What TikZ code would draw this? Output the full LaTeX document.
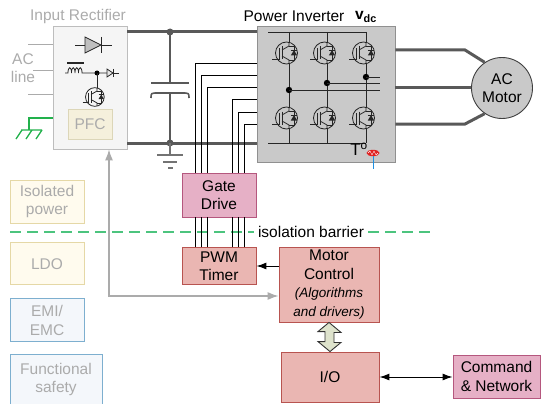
\documentclass[tikz,border=0pt]{standalone}
\usepackage{fontspec}
\setmainfont{Liberation Sans}
\usetikzlibrary{arrows.meta,positioning}
\definecolor{gdfill}{HTML}{E6B0C6}
\definecolor{gddraw}{HTML}{B5577E}
\definecolor{rdfill}{HTML}{EAB6B2}
\definecolor{rddraw}{HTML}{B85450}
\definecolor{ylfill}{HTML}{FFFBEE}
\definecolor{yldraw}{HTML}{E5D8A6}
\definecolor{blfill}{HTML}{F4F7FB}
\definecolor{bldraw}{HTML}{7DAFCF}
\definecolor{pfcfill}{HTML}{F5F0DC}
\definecolor{pfcdraw}{HTML}{DCD6B8}
\definecolor{recfill}{HTML}{F5F5F5}
\definecolor{recdraw}{HTML}{BDBDBD}
\definecolor{invfill}{HTML}{C9C9C9}
\definecolor{invdraw}{HTML}{909090}
\definecolor{busgray}{HTML}{595959}
\definecolor{txtgray}{HTML}{ABABAB}
\definecolor{isogreen}{HTML}{4CC47E}
\definecolor{earthgreen}{HTML}{22B14C}
\definecolor{arrfill}{HTML}{DEE3CC}
\definecolor{thermred}{HTML}{E02020}
\definecolor{thermblue}{HTML}{1F8FE0}
\newcommand\mcitalic{\fontsize{13.5}{17}\selectfont\itshape}
\tikzset{%
  >={Latex[length=10pt,width=7pt]},
  txt/.style={font=\fontsize{15.5}{18.5}\selectfont, align=center},
  blockbox/.style={rectangle, draw=#1draw, fill=#1fill, line width=0.9pt, inner sep=0pt, txt},
  softbox/.style={rectangle, draw=#1draw, fill=#1fill, line width=0.9pt, inner sep=0pt, txt, text=txtgray},
  bus/.style={draw=busgray, line width=3pt},
  capline/.style={draw=busgray, line width=1.6pt},
  gateline/.style={draw=black, line width=0.8pt},
  comp/.style={draw=black!85, line width=0.8pt},
  barrier/.style={draw=isogreen, line width=2pt, dash pattern=on 11pt off 6pt},
  greyarrow/.style={draw=txtgray, line width=1.2pt, >={Latex[length=11pt,width=8pt]}},
  ctrlarrow/.style={draw=black, line width=1pt},
  igbt/.pic={
    \draw[comp] (-2.5,0) circle[radius=11pt];
    \draw[comp] (-17,6) -- (-10,6) -- (-10,-5);
    \draw[comp] (-7,-6.5) -- (-7,6.5);
    \draw[comp] (-7,-3) -- (0,-7) -- (0,-10.7);
    \draw[comp] (-7,3) -- (0,7) -- (0,10.7);
    \draw[comp] (0,-7) -- (5,-7) -- (5,7) -- (0,7);
    \fill[black!85] (1.8,2.5) -- (8.2,2.5) -- (5,-3) -- cycle;
    \draw[comp] (1.8,-3) -- (8.2,-3);
  }
}
\begin{document}
\begin{tikzpicture}[x=1pt,y=-1pt]
\useasboundingbox (0,0) rectangle (541,404);

% input rectifier
\node (rect) [softbox=rec, minimum width=74, minimum height=123] at (90,87.5) {};
\node (rect_lbl) [txt, text=txtgray] at (78,16) {Input Rectifier};
\node (pfc) [softbox=pfc, minimum width=44, minimum height=30] at (90,124) {PFC};
\node (acl) [txt, text=txtgray] at (23,68) {AC\\line};
\foreach \y/\x in {44/28,70/33,94/28}
  \draw[draw=txtgray, line width=0.9pt] (\x,\y) -- (rect.west |- 0,\y);
\draw[draw=earthgreen, line width=1.3pt] (rect.west |- 0,118) -- (29,118) -- (29,130);
\draw[draw=earthgreen, line width=1.3pt] (21,130) -- (42,130)
  (22,130) -- (16,139) (32,130) -- (26,139) (42,130) -- (36,139);
% diode, inductor, switch
\draw[comp] (75,45) -- (85,45) (101,45) -- (112,45);
\draw[comp, fill=black!25] (85,37) -- (85,53) -- (101,45) -- cycle;
\draw[comp] (101,37) -- (101,53);
\draw[comp] (65,73) -- (68,73) .. controls (68,66) and (71.5,66) .. (71.5,73)
  .. controls (71.5,66) and (75,66) .. (75,73) .. controls (75,66) and (78.5,66) .. (78.5,73)
  .. controls (78.5,66) and (82,66) .. (82,73) -- (107,73);
\draw[comp, line width=1.2pt] (67,63) -- (84,63);
\draw[comp, fill=black!10] (107,69) -- (107,77) -- (113,73) -- cycle;
\draw[comp] (113,69) -- (113,77) (113,73) -- (119,73);
\fill[black] (97,73) circle[radius=2.5pt];
\draw[comp] (97,73) -- (97,88);
\pic[scale=0.85] at (97,97) {igbt};

% power inverter
\node (inv) [draw=invdraw, fill=invfill, line width=0.9pt, minimum width=138, minimum height=136, inner sep=0pt] at (326,94) {};
\node (inv_lbl) [txt] at (294,16) {Power Inverter};
\node (vdc) [txt] at (366,17) {\textbf{v\textsubscript{dc}}};
\draw[comp] (268,32) -- (366,32) (268,143) -- (366,143);
\foreach \c/\m in {289/90,327/83,366/77}{
  \draw[comp] (\c,32) -- (\c,42.5) (\c,63.5) -- (\c,107.5) (\c,128.5) -- (\c,143);
  \pic at (\c,53) {igbt};
  \pic at (\c,118) {igbt};
  \fill[black] (\c,\m) circle[radius=3.2pt];
  \draw[comp] (\c,\m) -- (380,\m);
}
\node (temp) [font=\fontsize{17}{18}\selectfont] at (359,149) {T\textsuperscript{o}};
\fill[thermred] (373,153) ellipse[x radius=6.5pt, y radius=3.2pt];
\draw[white, line width=0.4pt] (368,153) -- (370,151) -- (372,155) -- (374,151) -- (376,155) -- (378,153);
\draw[thermblue, line width=1pt] (373,156.2) -- (373,169);

% dc link
\coordinate (bus_top) at (170,32);
\coordinate (bus_bot) at (170,143);
\draw[bus] (rect.east |- bus_top) -- (inv.west |- bus_top);
\draw[bus] (rect.east |- bus_bot) -- (inv.west |- bus_bot);
\draw[capline] (bus_top) -- (170,83) (151,83) -- (189,83);
\draw[capline] (151,98) .. controls (151,93) .. (158,93) -- (182,93) .. controls (189,93) .. (189,98);
\draw[capline] (170,93) -- (bus_bot);
\fill[busgray] (bus_top) circle[radius=3.5pt];
\fill[busgray] (bus_bot) circle[radius=3.5pt];
\draw[draw=black!55, line width=1.1pt] (bus_bot) -- (170,155)
  (157,155) -- (183,155) (163,162) -- (177,162) (168,168) -- (173,168);

% motor
\node (motor) [circle, draw=black!75, fill=invfill, minimum size=61, line width=0.9pt, inner sep=0pt, txt] at (502,88) {AC\\Motor};
\draw[bus] (inv.east |- 0,50) -- (465,50) -- (motor.124);
\draw[bus] (inv.east |- motor.west) -- (motor.west);
\draw[bus] (inv.east |- 0,124) -- (465,124) -- (motor.236);

% control side
\node (gate) [blockbox=gd, minimum width=74, minimum height=44] at (219,195) {Gate\\Drive};
\node (pwm) [blockbox=rd, minimum width=74, minimum height=37, below=30pt of gate] {PWM\\Timer};
\node (mc) [blockbox=rd, minimum width=100, minimum height=75] at (329,284.5) {Motor\\Control\\{\mcitalic(Algorithms}\\{\mcitalic and drivers)}};
\node (io) [blockbox=rd, minimum width=98, minimum height=50] at (330,377) {I/O};
\node (cmd) [blockbox=gd, minimum width=87, minimum height=43] at (496.5,376.5) {Command\\\& Network};

% isolation barrier
\node (iso_lbl) [txt, inner sep=4pt] at (311,232) {isolation barrier};
\draw[barrier] (10,232) -- (iso_lbl.west);
\draw[barrier] (iso_lbl.east) -- (430,232);

\foreach \x/\y in {195/63,201/75,207/87,232/99,238/112,244/124}{
  \draw[gateline] (gate.north -| \x,0) |- (inv.west |- 0,\y);
  \draw[gateline] (pwm.north -| \x,0) -- (gate.south -| \x,0);
}

% support blocks
\node (isopow) [softbox=yl, minimum width=74, minimum height=43] at (47,201.5) {Isolated\\power};
\node (ldo) [softbox=yl, minimum width=74, minimum height=42, below=19pt of isopow] {LDO};
\node (emi) [softbox=bl, minimum width=74, minimum height=43, below=13pt of ldo] {EMI/\\EMC};
\node (fsafe) [softbox=bl, minimum width=92, minimum height=50, below=12pt of emi.south west, anchor=north west] {Functional\\safety};

% connections
\draw[ctrlarrow, ->] (mc.west |- 0,266) -- (pwm.east |- 0,266);
\draw[ctrlarrow, <->] (io.east |- 0,377) -- (cmd.west |- 0,377);
\draw[greyarrow, <->] (rect.south -| 109,0) |- (mc.west |- 0,296);
\draw[draw=black!80, fill=arrfill, line width=0.9pt] (mc.south) -- ++(12,10) -- ++(-7,0) -- ++(0,10)
  -- ++(7,0) -- (io.north) -- ++(-12,-10) -- ++(7,0) -- ++(0,-10) -- ++(-7,0) -- cycle;

\end{tikzpicture}
\end{document}
